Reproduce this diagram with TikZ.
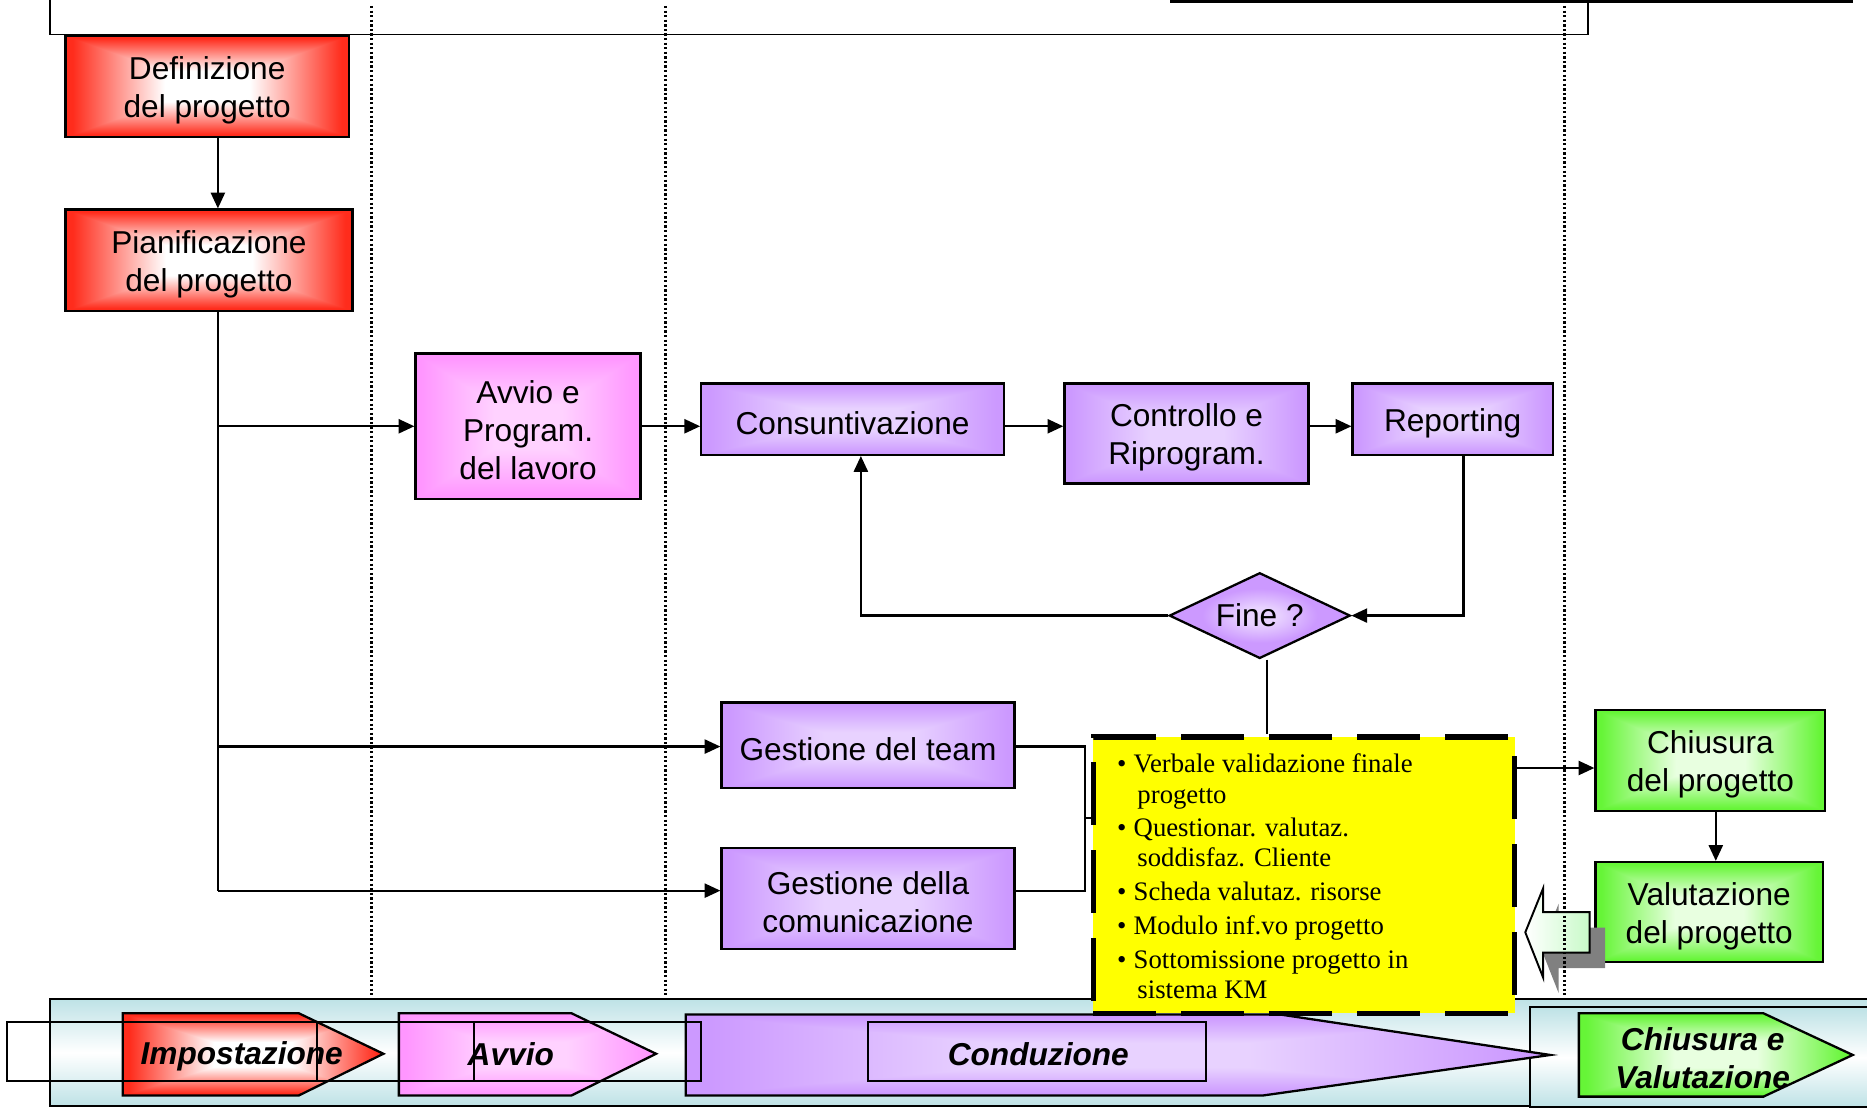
\documentclass[tikz,border=0pt]{standalone}
\usepackage{fontspec}
\setmainfont{Liberation Sans}
\newfontfamily\notefont{Liberation Serif}
\usetikzlibrary{arrows.meta,shapes.geometric,calc}

\definecolor{boxviolet}{RGB}{204,153,255}
\definecolor{violetcore}{RGB}{232,210,255}
\definecolor{barteal}{RGB}{190,226,230}
\definecolor{shadowgray}{RGB}{128,128,128}
\definecolor{arrowmint}{RGB}{200,250,200}
\definecolor{noteyellow}{RGB}{255,255,0}

% rectangular glow: core colour (#2,#3,#4) in the middle, rim = core + (#5,#6,#7) at the edges
\newcommand{\rectglow}[7]{%
  \pgfdeclarefunctionalshading{#1}{\pgfpoint{-50bp}{-50bp}}{\pgfpoint{50bp}{50bp}}{}{%
    abs exch abs 2 copy lt {exch} if pop
    25 div 0.3 sub 0.65 div dup 0 lt {pop 0} if dup 1 gt {pop 1} if
    dup #5 mul #2 add exch dup #6 mul #3 add exch #7 mul #4 add}}
\rectglow{redglow}{1}{1}{1}{0}{-0.827}{-0.890}
\rectglow{pinkglow}{1}{0.824}{1}{0}{-0.236}{0}
\rectglow{violetglow}{0.91}{0.824}{1}{-0.11}{-0.224}{0}
\rectglow{greenglow}{0.91}{1}{0.878}{-0.51}{-0.039}{-0.662}
% round glow for the decision diamond
\pgfdeclareradialshading{diamondglow}{\pgfpoint{0bp}{0bp}}{color(0bp)=(violetcore); color(5bp)=(violetcore); color(16bp)=(boxviolet); color(50bp)=(boxviolet)}

\def\pxu{0.0238cm}
% \flowbox{name}{x1}{y1}{x2}{y2}{style}{text}
\newcommand{\flowbox}[7]{%
  \node[#6, minimum width={(#4-#2)*\pxu}, minimum height={(#5-#3)*\pxu}] (#1) at ({(#2+#4)/2},{(#3+#5)/2}) {};
  \node[boxtext] (#1-text) at ([yshift=-2.2pt]#1.center) {#7};}

\begin{document}
\begin{tikzpicture}[x=\pxu, y=-\pxu,
  box/.style={draw=black, line width=1.3pt, inner sep=0, shade},
  boxtext/.style={align=center, inner sep=0, font=\fontsize{18pt}{21.6pt}\selectfont},
  redbox/.style={box, shading=redglow},
  pinkbox/.style={box, shading=pinkglow},
  violetbox/.style={box, shading=violetglow},
  greenbox/.style={box, shading=greenglow},
  notestyle/.style={fill=noteyellow, draw=black, line width=2.9pt, dash pattern=on 1.26cm off 0.5cm, inner sep=0},
  notetext/.style={font=\notefont\fontsize{15.2pt}{17.3pt}\selectfont, align=left, inner sep=0},
  conn/.style={line width=1.3pt},
  arr/.style={conn, -{Triangle[length=9pt,width=8pt]}},
  sep/.style={line width=1.3pt, dash pattern=on 1.3pt off 1.3pt},
  frame/.style={line width=1.1pt},
  phase/.style={draw=black, line width=1.3pt, shade},
  phaselabel/.style={font=\bfseries\itshape\fontsize{18pt}{21.6pt}\selectfont, align=center, inner sep=0},
  bar/.style={draw=black, line width=1.2pt, top color=barteal, bottom color=barteal, middle color=white}]
\useasboundingbox (0,0) rectangle (1568,931);
\clip (0,0) rectangle (1568,931);

% header frame
\draw[frame] (42,-5) -- (42,29) -- (1334,29) -- (1334,-5);
\draw[line width=1.6pt] (983,1) -- (1556,1);

% phase bar at the bottom
\path[bar] (42,839) rectangle (1620,929);
\path[bar] (1285,846) rectangle (1620,930);
\path[phase, shading=redglow] (103,851) -- (251,851) -- (322,885) -- (251,920) -- (103,920) -- cycle;
\path[phase, shading=pinkglow] (335,851) -- (480,851) -- (551,885) -- (480,920) -- (335,920) -- cycle;
\path[phase, shading=violetglow] (576,852) -- (1075,852) -- (1302,886) -- (1061,920) -- (576,920) -- cycle;
\draw[line width=1.1pt] (729,858) rectangle (1013,908);
\path[phase, shading=greenglow] (1326,851) -- (1481,851) -- (1556,886) -- (1481,921) -- (1326,921) -- cycle;
\draw[line width=1.1pt] (6,858) rectangle (589,908);
\draw[line width=1.1pt] (266,858) -- (266,908);
\draw[line width=1.1pt] (398,858) -- (398,908);
\node[phaselabel] (ph1) at (203,887) {Impostazione};
\node[phaselabel] (ph2) at (429,885) {Avvio};
\node[phaselabel] (ph3) at (872,885) {Conduzione};
\node[phaselabel] (ph4) at (1430,889) {Chiusura e\\Valutazione};

% process boxes
\flowbox{defn}{55}{30}{293}{115}{redbox}{Definizione\\del progetto}
\flowbox{pian}{55}{176}{296}{261}{redbox}{Pianificazione\\del progetto}
\flowbox{avvio}{349}{297}{538}{419}{pinkbox}{Avvio e\\Program.\\del lavoro}
\flowbox{cons}{589}{322}{843}{382}{violetbox}{Consuntivazione}
\flowbox{ctrl}{894}{322}{1099}{406}{violetbox}{Controllo e\\Riprogram.}
\flowbox{rep}{1136}{322}{1304}{382}{violetbox}{Reporting}
\flowbox{team}{606}{590}{852}{662}{violetbox}{Gestione del team}
\flowbox{comm}{606}{712}{852}{797}{violetbox}{Gestione della\\comunicazione}
\flowbox{chius}{1340}{596}{1533}{681}{greenbox}{Chiusura\\del progetto}
\flowbox{valut}{1340}{724}{1531}{808}{greenbox}{Valutazione\\del progetto}
\node[diamond, draw=black, line width=1.3pt, shade, shading=diamondglow, aspect=2, inner sep=0,
  minimum width={152*\pxu}, minimum height={72*\pxu},
  font=\fontsize{18pt}{21.6pt}\selectfont] (fine) at (1058,517) {Fine ?};

% closing documents
\node[notestyle, minimum width={354*\pxu}, minimum height={232*\pxu}] (notebox) at (1095,735) {};
\node[notetext, anchor=north west] (notes) at (938,633) {%
  \makebox[0.33cm][l]{•}Verbale validazione finale\\
  \hspace*{0.405cm}progetto\\[1.5pt]
  \makebox[0.33cm][l]{•}Questionar. valutaz.\\
  \hspace*{0.405cm}soddisfaz. Cliente\\[2pt]
  \makebox[0.33cm][l]{•}Scheda valutaz. risorse\\[2pt]
  \makebox[0.33cm][l]{•}Modulo inf.vo progetto\\[2pt]
  \makebox[0.33cm][l]{•}Sottomissione progetto in\\
  \hspace*{0.405cm}sistema KM};

% connectors
\coordinate (trunk) at (183,0);
\coordinate (row) at (0,358);
\coordinate (teamrow) at (0,627);
\coordinate (commrow) at (0,748);
\coordinate (stubrow) at (0,687);
\coordinate (outrow) at (0,645);
\coordinate (repx) at (1229,0);
\coordinate (loopx) at (723,0);
\coordinate (finex) at (1064,0);
\coordinate (brk) at (911,0);
\coordinate (closex) at (1441,0);

\draw[arr] (defn.south -| trunk) -- (pian.north -| trunk);
\draw[conn] (pian.south -| trunk) -- (trunk |- commrow);
\draw[arr] (trunk |- row) -- (avvio.west |- row);
\draw[arr] (trunk |- teamrow) -- (team.west |- teamrow);
\draw[arr] (trunk |- commrow) -- (comm.west |- commrow);
\draw[arr] (avvio.east |- row) -- (cons.west |- row);
\draw[arr] (cons.east |- row) -- (ctrl.west |- row);
\draw[arr] (ctrl.east |- row) -- (rep.west |- row);
\draw[arr] (rep.south -| repx) |- (fine.east);
\draw[arr] (fine.west) -| (loopx |- cons.south);
\draw[conn] (fine.south -| finex) -- (finex |- notebox.north);
\draw[conn] (team.east |- teamrow) -| (brk |- commrow) -- (comm.east |- commrow);
\draw[conn] (brk |- stubrow) -- (notebox.west |- stubrow);
\draw[arr] (notebox.east |- outrow) -- (chius.west |- outrow);
\draw[arr] (chius.south -| closex) -- (valut.north -| closex);

% hollow block arrow from the evaluation back to the documents
\fill[shadowgray, shift={(13,13)}] (1281,783) -- (1296,746) -- (1296,766) -- (1335,766) -- (1335,800) -- (1296,800) -- (1296,821) -- cycle;
\draw[line width=1.1pt, left color=white, right color=arrowmint] (1281,783) -- (1296,746) -- (1296,766) -- (1335,766) -- (1335,800) -- (1296,800) -- (1296,821) -- cycle;

% phase separators
\foreach \sx in {312,559,1314} \draw[sep] (\sx,5) -- (\sx,836);
\end{tikzpicture}
\end{document}
